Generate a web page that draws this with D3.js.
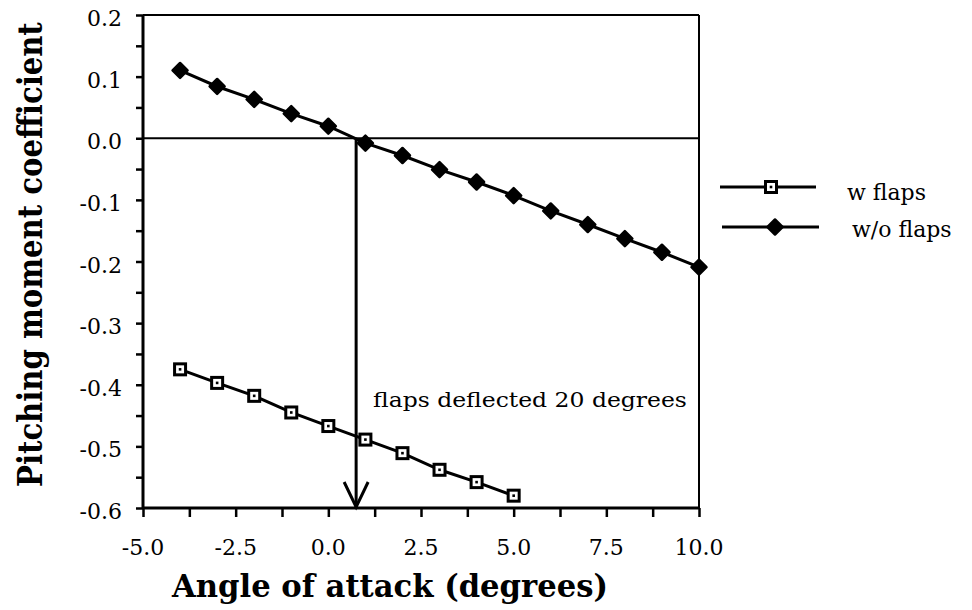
<!DOCTYPE html>
<html><head><meta charset="utf-8">
<script src="https://cdn.jsdelivr.net/npm/d3@7"></script>
<style>body{margin:0;background:#fff}svg{display:block}</style>
</head><body>
<svg id="c" width="972" height="610"></svg>
<script>
const alpha = [-4,-3,-2,-1,0,1,2,3,4,5,6,7,8,9,10];
const withoutFlaps = [0.110,0.084,0.063,0.040,0.0195,-0.008,-0.028,-0.051,-0.071,-0.093,-0.118,-0.140,-0.163,-0.185,-0.209];
const alphaFlaps = [-4,-3,-2,-1,0,1,2,3,4,5];
const withFlaps = [-0.375,-0.397,-0.418,-0.445,-0.467,-0.489,-0.511,-0.538,-0.558,-0.580];
const xTicks = [-5,-2.5,0,2.5,5,7.5,10];
const xTickLabels = ["-5.0","-2.5","0.0","2.5","5.0","7.5","10.0"];
const yTicks = [0.2,0.1,0,-0.1,-0.2,-0.3,-0.4,-0.5,-0.6];
const yTickLabels = ["0.2","0.1","0.0","-0.1","-0.2","-0.3","-0.4","-0.5","-0.6"];
const arrowAlpha = 0.75;
const seriesNames = ["w flaps","w/o flaps"];

const svg = d3.select("#c");
const L=143,R=699,T=15,B=508;
const x = d3.scaleLinear().domain([-5,10]).range([L,R]);
const y = d3.scaleLinear().domain([-0.6,0.2]).range([B,T]);
const serif = "'DejaVu Serif','Liberation Serif',serif";

// frame
svg.append("line").attr("x1",L).attr("x2",R).attr("y1",T).attr("y2",T).attr("stroke","#000").attr("stroke-width",2);
svg.append("line").attr("x1",R).attr("x2",R).attr("y1",T).attr("y2",B).attr("stroke","#000").attr("stroke-width",2);
svg.append("line").attr("x1",L).attr("x2",R).attr("y1",y(0)).attr("y2",y(0)).attr("stroke","#000").attr("stroke-width",2);

// axes (ticks)
const xAxis = d3.axisBottom(x).tickValues(d3.range(-5,10.01,1.25)).tickSize(9).tickFormat("");
const gx = svg.append("g").attr("transform",`translate(0,${B})`).call(xAxis);
gx.select(".domain").attr("d",`M${L},0H${R}`).attr("stroke-width",3);
gx.selectAll(".tick line").attr("stroke-width",2.5);

const yAxis = d3.axisLeft(y).tickValues(d3.range(-0.6,0.2001,0.05)).tickSize(7).tickFormat("");
const gy = svg.append("g").attr("transform",`translate(${L},0)`).call(yAxis);
gy.select(".domain").attr("d",`M0,${T}V${B}`).attr("stroke-width",3);
gy.selectAll(".tick line").attr("stroke-width",2.5);

// tick labels
svg.append("g").selectAll("text").data(xTicks).join("text")
  .attr("x",d=>x(d)).attr("y",B+47).attr("text-anchor","middle")
  .style("font-family",serif).style("font-size","22px").text((d,i)=>xTickLabels[i]);
svg.append("g").selectAll("text").data(yTicks).join("text")
  .attr("x",L-21).attr("y",d=>y(d)+11).attr("text-anchor","end")
  .style("font-family",serif).style("font-size","22px").text((d,i)=>yTickLabels[i]);

// lines
const line = d3.line().x(d=>x(d[0])).y(d=>y(d[1]));
const d1 = alpha.map((a,i)=>[a,withoutFlaps[i]]);
const d2 = alphaFlaps.map((a,i)=>[a,withFlaps[i]]);
svg.append("path").datum(d1).attr("d",line).attr("fill","none").attr("stroke","#000").attr("stroke-width",3);
svg.append("path").datum(d2).attr("d",line).attr("fill","none").attr("stroke","#000").attr("stroke-width",3);

function diamond(g,cx,cy){ g.append("path").attr("d",`M${cx},${cy-7.5}L${cx+7.5},${cy}L${cx},${cy+7.5}L${cx-7.5},${cy}Z`).attr("fill","#000").attr("stroke","#000").attr("stroke-width",2.5).attr("stroke-linejoin","round"); }
function square(g,cx,cy){ g.append("rect").attr("x",cx-5.5).attr("y",cy-5.5).attr("width",11).attr("height",11).attr("fill","#fff").attr("stroke","#000").attr("stroke-width",3);
  g.append("rect").attr("x",cx-1.3).attr("y",cy-1.3).attr("width",2.6).attr("height",2.6).attr("fill","#000"); }
const gm = svg.append("g");
d1.forEach(d=>diamond(gm,x(d[0]),y(d[1])));
d2.forEach(d=>square(gm,x(d[0]),y(d[1])));

// fitted text: scales the glyphs horizontally to a target width
function fitText(tx,ty,rot,size,weight,width,str){
  const g = svg.append("g").attr("transform",`translate(${tx},${ty}) rotate(${rot})`);
  const t = g.append("text").attr("x",0).attr("y",0).style("font-family",serif)
    .style("font-size",size+"px").style("font-weight",weight).text(str);
  const w = t.node().getComputedTextLength();
  t.attr("transform",`scale(${width/w},1)`);
  return t;
}

// arrow
const ax = x(arrowAlpha);
svg.append("line").attr("x1",ax).attr("x2",ax).attr("y1",y(0)).attr("y2",B-1).attr("stroke","#000").attr("stroke-width",3);
svg.append("path").attr("d",`M${ax-12},${B-26}L${ax},${B-1}L${ax+12},${B-26}`).attr("fill","none").attr("stroke","#000").attr("stroke-width",3);
fitText(373,407,0,21,"normal",314,"flaps deflected 20 degrees");

// legend
svg.append("line").attr("x1",720).attr("x2",816).attr("y1",187).attr("y2",187).attr("stroke","#000").attr("stroke-width",3);
square(svg,771,187);
svg.append("text").attr("x",847).attr("y",200).style("font-family",serif).style("font-size","22px").text(seriesNames[0]);
svg.append("line").attr("x1",722).attr("x2",819).attr("y1",227).attr("y2",227).attr("stroke","#000").attr("stroke-width",3);
diamond(svg,775,227);
svg.append("text").attr("x",852).attr("y",237).style("font-family",serif).style("font-size","22px").text(seriesNames[1]);

// titles
fitText(172,597,0,32,"bold",436,"Angle of attack (degrees)");
fitText(42,487,-90,33,"bold",465,"Pitching moment coefficient");
</script>
</body></html>
